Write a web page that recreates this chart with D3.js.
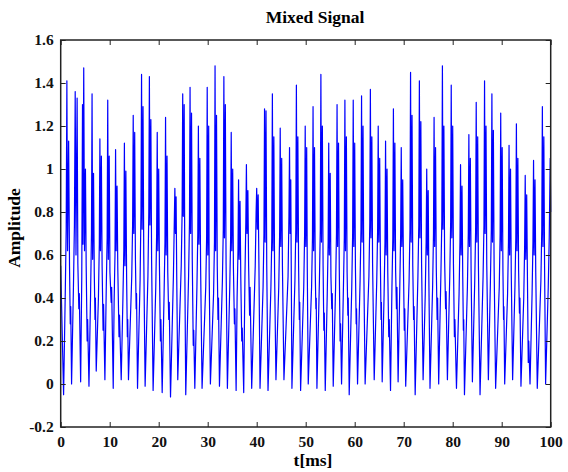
<!DOCTYPE html>
<html>
<head>
<meta charset="utf-8">
<script src="https://d3js.org/d3.v7.min.js"></script>
<style>
  body { margin: 0; background: #fff; }
  text { font-family: "Liberation Serif", "Times New Roman", serif; font-weight: bold; }
</style>
</head>
<body>
<script>
// Signal. One row per cycle:
// trough, rising knee, knee, main spike, post-spike dip, second spike, shoulder, (lower wiggle)
var timeMs = [
  0,
  0.59, 0.95, 1.12, 1.26, 1.4, 1.62, 1.8, 1.95, 2.05,
  2.22, 2.6, 2.8, 2.96, 3.12, 3.35, 3.5, 3.7, 3.8,
  4.07, 4.3, 4.45, 4.55, 4.7, 4.86, 5.05, 5.2, 5.4, 5.5,
  5.77, 6.1, 6.28, 6.4, 6.52, 6.7, 6.85, 7.0, 7.08,
  7.25, 7.7, 7.88, 8.0, 8.12, 8.3, 8.45, 8.65, 8.75,
  9.02, 9.3, 9.48, 9.6, 9.72, 9.9, 10.05, 10.3, 10.4,
  10.72, 10.9, 11.08, 11.2, 11.32, 11.5, 11.65, 11.9, 12.0,
  12.35, 12.7, 12.88, 13.0, 13.12, 13.3, 13.45, 13.6, 13.68,
  13.83, 14.5, 14.68, 14.8, 14.92, 15.1, 15.25, 15.4, 15.48,
  15.68, 16.2, 16.38, 16.5, 16.62, 16.8, 16.95,
  17.23, 17.8, 17.98, 18.1, 18.22, 18.4, 18.55,
  18.86, 19.4, 19.58, 19.7, 19.82, 20.0, 20.15, 20.35, 20.45,
  20.71, 21.1, 21.28, 21.4, 21.52, 21.7, 21.85, 22.05, 22.15,
  22.41, 23.0, 23.18, 23.3, 23.42, 23.55, 23.68,
  23.89, 24.6, 24.78, 24.9, 25.02, 25.2, 25.32,
  25.52, 26.1, 26.28, 26.4, 26.52, 26.7, 26.85, 27.05, 27.15,
  27.37, 27.8, 27.98, 28.1, 28.22, 28.4, 28.55,
  28.85, 29.6, 29.78, 29.9, 30.02, 30.2, 30.3,
  30.55, 31.2, 31.38, 31.5, 31.62, 31.8, 31.95, 32.1, 32.2,
  32.4, 33.0, 33.18, 33.3, 33.42, 33.6, 33.75,
  34.02, 34.5, 34.68, 34.8, 34.92, 35.1, 35.25, 35.45, 35.55,
  35.8, 36.0, 36.18, 36.3, 36.42, 36.6, 36.75, 36.95, 37.05,
  37.35, 37.6, 37.78, 37.9, 38.02, 38.2, 38.35, 38.55, 38.65,
  38.98, 39.7, 39.88, 40.0, 40.12, 40.3, 40.45,
  40.68, 41.3, 41.48, 41.6, 41.72, 41.9, 42.05,
  42.31, 42.9, 43.08, 43.2, 43.32, 43.5, 43.65,
  43.93, 44.5, 44.68, 44.8, 44.92, 45.1, 45.25,
  45.56, 46.4, 46.58, 46.7, 46.82, 46.95, 47.05,
  47.19, 47.8, 47.98, 48.1, 48.22, 48.4, 48.55, 48.7, 48.78,
  48.96, 49.6, 49.78, 49.9, 50.02, 50.2, 50.32,
  50.52, 51.2, 51.38, 51.5, 51.62, 51.8, 51.95, 52.08, 52.15,
  52.29, 52.8, 52.98, 53.1, 53.22, 53.4, 53.55, 53.7, 53.8,
  53.99, 54.4, 54.58, 54.7, 54.82, 55.0, 55.15, 55.32, 55.42,
  55.62, 56.1, 56.28, 56.4, 56.52, 56.7, 56.85, 57.02, 57.12,
  57.32, 57.7, 57.88, 58.0, 58.12, 58.3, 58.45, 58.6, 58.68,
  58.88, 59.4, 59.58, 59.7, 59.82, 60.0, 60.15, 60.3, 60.38,
  60.58, 61.1, 61.28, 61.4, 61.52, 61.7, 61.85,
  62.13, 62.9, 63.08, 63.2, 63.32, 63.5, 63.65,
  63.98, 64.5, 64.68, 64.8, 64.92, 65.1, 65.25, 65.38, 65.45,
  65.61, 66.0, 66.18, 66.3, 66.42, 66.6, 66.75, 66.95, 67.05,
  67.31, 67.6, 67.78, 67.9, 68.02, 68.2, 68.35, 68.52, 68.62,
  68.86, 69.2, 69.38, 69.5, 69.62, 69.8, 69.95, 70.12, 70.22,
  70.41, 71.1, 71.28, 71.4, 71.52, 71.7, 71.85, 72.02, 72.12,
  72.34, 72.9, 73.08, 73.2, 73.32, 73.5, 73.65,
  73.96, 74.4, 74.58, 74.7, 74.82, 75.0, 75.12,
  75.37, 75.9, 76.08, 76.2, 76.32, 76.5, 76.65, 76.82, 76.92,
  77.14, 77.6, 77.78, 77.9, 78.02, 78.2, 78.35, 78.55, 78.65,
  78.92, 79.4, 79.58, 79.7, 79.82, 80.0, 80.15, 80.35, 80.45,
  80.77, 81.3, 81.48, 81.6, 81.72, 81.9, 82.05, 82.18, 82.25,
  82.4, 83.0, 83.18, 83.3, 83.42, 83.6, 83.75,
  84.02, 84.5, 84.68, 84.8, 84.92, 85.1, 85.25,
  85.58, 86.2, 86.38, 86.5, 86.62, 86.8, 86.95,
  87.28, 87.7, 87.88, 88.0, 88.12, 88.3, 88.45,
  88.76, 89.5, 89.68, 89.8, 89.92, 90.1, 90.25, 90.38, 90.45,
  90.61, 91.2, 91.38, 91.5, 91.62, 91.8, 91.95,
  92.23, 92.7, 92.88, 93.0, 93.12, 93.3, 93.45, 93.62, 93.72,
  93.93, 94.5, 94.68, 94.8, 94.92, 95.1, 95.25, 95.42, 95.52,
  95.78, 96.2, 96.38, 96.5, 96.62, 96.8, 96.95,
  97.26, 98.0, 98.18, 98.3, 98.42, 98.6, 98.75,
  98.96, 99.5, 99.7, 99.9, 100
];
var amplitude = [
  0.55,
  -0.05, 0.45, 0.72, 1.41, 0.62, 1.13, 0.55, 0.28, 0.36,
  0.00, 0.45, 0.74, 1.36, 0.60, 1.33, 0.56, 0.35, 0.42,
  0.01, 0.50, 1.30, 0.65, 1.47, 0.62, 1.00, 0.55, 0.20, 0.30,
  -0.01, 0.42, 0.70, 1.35, 0.58, 0.98, 0.52, 0.30, 0.40,
  0.06, 0.40, 0.65, 1.14, 0.62, 1.06, 0.55, 0.25, 0.37,
  0.02, 0.45, 0.68, 1.32, 0.58, 1.06, 0.52, 0.38, 0.45,
  -0.02, 0.38, 0.60, 1.09, 0.62, 0.92, 0.54, 0.22, 0.32,
  0.02, 0.40, 0.62, 1.12, 0.55, 0.99, 0.50, 0.22, 0.30,
  0.02, 0.50, 0.75, 1.25, 0.70, 1.17, 0.58, 0.35, 0.42,
  -0.02, 0.48, 0.80, 1.44, 0.72, 1.29, 0.60,
  -0.01, 0.50, 0.80, 1.43, 0.74, 1.23, 0.58,
  -0.03, 0.45, 0.70, 1.17, 0.62, 1.00, 0.55, 0.20, 0.30,
  -0.04, 0.42, 0.66, 1.24, 0.60, 1.06, 0.52, 0.30, 0.38,
  -0.06, 0.50, 0.75, 0.91, 0.70, 0.87, 0.50,
  0.02, 0.55, 0.80, 1.35, 0.78, 1.30, 0.58,
  -0.05, 0.50, 0.75, 1.38, 0.70, 1.26, 0.58, 0.18, 0.25,
  -0.02, 0.45, 0.70, 1.20, 0.65, 1.05, 0.55,
  -0.02, 0.45, 0.68, 1.38, 0.60, 1.20, 0.52,
  0.00, 0.42, 0.66, 1.48, 0.62, 1.25, 0.55, 0.30, 0.40,
  -0.01, 0.48, 0.72, 1.43, 0.68, 1.30, 0.56,
  -0.02, 0.45, 0.68, 1.17, 0.62, 1.00, 0.54, 0.28, 0.35,
  -0.03, 0.40, 0.62, 0.95, 0.58, 0.85, 0.50, 0.20, 0.26,
  -0.04, 0.50, 0.75, 1.02, 0.70, 0.90, 0.55, 0.32, 0.45,
  -0.02, 0.55, 0.80, 0.91, 0.72, 0.88, 0.56,
  -0.02, 0.45, 0.70, 1.28, 0.66, 1.27, 0.55,
  -0.03, 0.45, 0.68, 1.35, 0.62, 1.15, 0.52,
  0.02, 0.45, 0.70, 1.19, 0.64, 1.05, 0.55,
  0.02, 0.50, 0.78, 1.10, 0.70, 0.95, 0.55,
  -0.02, 0.48, 0.72, 1.39, 0.66, 1.15, 0.55, 0.30, 0.38,
  -0.03, 0.45, 0.70, 1.20, 0.64, 1.10, 0.54,
  0.00, 0.45, 0.68, 1.29, 0.62, 1.10, 0.52, 0.35, 0.40,
  -0.02, 0.48, 0.72, 1.44, 0.66, 1.20, 0.55, 0.25, 0.33,
  -0.03, 0.42, 0.66, 1.12, 0.60, 0.98, 0.50, 0.35, 0.42,
  -0.01, 0.45, 0.70, 1.30, 0.64, 1.12, 0.54, 0.20, 0.28,
  0.00, 0.45, 0.68, 1.32, 0.62, 1.15, 0.52, 0.32, 0.40,
  -0.05, 0.45, 0.70, 1.32, 0.64, 1.12, 0.54, 0.28, 0.35,
  0.00, 0.48, 0.72, 1.34, 0.66, 1.20, 0.55,
  0.00, 0.50, 0.75, 1.37, 0.68, 1.15, 0.56,
  0.02, 0.48, 0.72, 1.20, 0.66, 1.05, 0.55, 0.30, 0.38,
  0.01, 0.42, 0.66, 1.13, 0.60, 1.00, 0.52, 0.22, 0.30,
  -0.03, 0.45, 0.68, 1.28, 0.62, 1.12, 0.53, 0.35, 0.45,
  0.01, 0.45, 0.70, 1.10, 0.64, 0.95, 0.54, 0.25, 0.35,
  -0.01, 0.48, 0.72, 1.45, 0.66, 1.25, 0.55, 0.30, 0.36,
  -0.05, 0.50, 0.74, 1.41, 0.68, 1.22, 0.56,
  0.02, 0.42, 0.66, 1.00, 0.60, 0.90, 0.52,
  -0.02, 0.45, 0.70, 1.24, 0.64, 1.10, 0.54, 0.30, 0.40,
  0.00, 0.52, 0.76, 1.48, 0.72, 1.20, 0.58, 0.35, 0.43,
  0.02, 0.50, 0.75, 1.39, 0.68, 1.20, 0.56, 0.22, 0.30,
  -0.02, 0.42, 0.66, 1.02, 0.60, 0.92, 0.50, 0.25, 0.30,
  -0.05, 0.45, 0.70, 1.16, 0.64, 1.05, 0.54,
  0.01, 0.48, 0.72, 1.31, 0.66, 1.15, 0.55,
  -0.05, 0.50, 0.74, 1.41, 0.70, 1.20, 0.56,
  0.02, 0.48, 0.72, 1.35, 0.66, 1.18, 0.55,
  -0.02, 0.45, 0.70, 1.26, 0.62, 1.10, 0.53, 0.30, 0.36,
  0.00, 0.42, 0.66, 1.11, 0.60, 1.00, 0.52,
  0.02, 0.45, 0.68, 1.21, 0.62, 1.05, 0.53, 0.33, 0.40,
  -0.01, 0.40, 0.64, 0.97, 0.58, 0.88, 0.50, 0.10, 0.20,
  0.00, 0.42, 0.66, 1.04, 0.60, 0.95, 0.52,
  -0.02, 0.48, 0.72, 1.29, 0.64, 1.15, 0.55,
  0.00, 0.45, 0.68, 1.05, 0.80
];

var xTicks = [0, 10, 20, 30, 40, 50, 60, 70, 80, 90, 100];
var yTicks = [-0.2, 0, 0.2, 0.4, 0.6, 0.8, 1, 1.2, 1.4, 1.6];
var yTickLabels = ["-0.2", "0", "0.2", "0.4", "0.6", "0.8", "1", "1.2", "1.4", "1.6"];

var width = 568, height = 472;
var margin = { left: 60.7, right: 17.3, top: 40, bottom: 45 };

var svg = d3.select("body").append("svg")
    .attr("width", width)
    .attr("height", height);

var x = d3.scaleLinear().domain([0, 100]).range([margin.left, width - margin.right]);
var y = d3.scaleLinear().domain([-0.2, 1.6]).range([height - margin.bottom, margin.top]);

var points = timeMs.map(function (t, i) { return [t, amplitude[i]]; });

var line = d3.line()
    .x(function (d) { return x(d[0]); })
    .y(function (d) { return y(d[1]); });

svg.append("path")
    .datum(points)
    .attr("d", line)
    .attr("fill", "none")
    .attr("stroke", "#0000ff")
    .attr("stroke-width", 1.2)
    .attr("stroke-linejoin", "round");

// axes: ticks point inward on all four sides
var yLabels = function (d) { return yTickLabels[yTicks.indexOf(d)]; };

svg.append("g")
    .attr("transform", "translate(0," + (height - margin.bottom) + ")")
    .call(d3.axisBottom(x).tickValues(xTicks).tickSize(-5).tickPadding(9));
svg.append("g")
    .attr("transform", "translate(" + margin.left + ",0)")
    .call(d3.axisLeft(y).tickValues(yTicks).tickFormat(yLabels).tickSize(-5).tickPadding(7));
svg.append("g")
    .attr("transform", "translate(0," + margin.top + ")")
    .call(d3.axisTop(x).tickValues(xTicks).tickSize(-5).tickFormat(""));
svg.append("g")
    .attr("transform", "translate(" + (width - margin.right) + ",0)")
    .call(d3.axisRight(y).tickValues(yTicks).tickSize(-5).tickFormat(""));

svg.selectAll(".domain").remove();
svg.selectAll(".tick line").attr("stroke", "#222").attr("stroke-width", 1);
svg.selectAll(".tick text")
    .style("font-size", "15.5px")
    .attr("fill", "#111");

svg.append("rect")
    .attr("x", margin.left)
    .attr("y", margin.top)
    .attr("width", width - margin.left - margin.right)
    .attr("height", height - margin.top - margin.bottom)
    .attr("fill", "none")
    .attr("stroke", "#222")
    .attr("stroke-width", 1.5);

svg.append("text")
    .attr("x", 315)
    .attr("y", 23)
    .attr("text-anchor", "middle")
    .style("font-size", "17.5px")
    .text("Mixed Signal");

svg.append("text")
    .attr("x", 313)
    .attr("y", 466)
    .attr("text-anchor", "middle")
    .style("font-size", "17.5px")
    .text("t[ms]");

svg.append("text")
    .attr("transform", "translate(20,228) rotate(-90)")
    .attr("text-anchor", "middle")
    .style("font-size", "17.5px")
    .text("Amplitude");
</script>
</body>
</html>
